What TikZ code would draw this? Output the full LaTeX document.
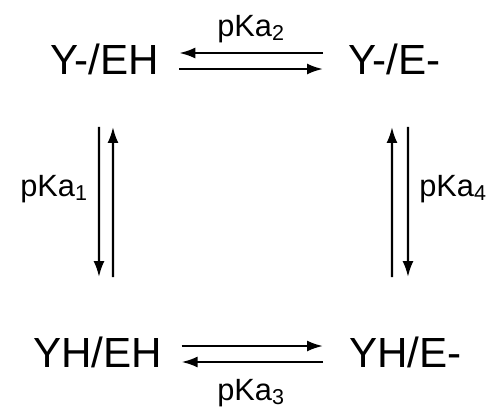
\documentclass[tikz,border=0pt]{standalone}
\usepackage{fontspec}
\setmainfont{Liberation Sans}
\usetikzlibrary{arrows.meta}
\tikzset{
  species/.style={anchor=base west,inner sep=0pt,font=\fontsize{24}{28}\selectfont},
  pklabel/.style={anchor=base west,inner sep=0pt,font=\fontsize{17.5}{20}\selectfont},
  eqarrow/.style={-{Latex[length=0.32cm,width=0.22cm]},line width=1.3pt}
}
\begin{document}
\begin{tikzpicture}[x=0.02cm,y=-0.02cm]
  \useasboundingbox (0,0) rectangle (495,410);

%% species
  \node[species] (yeh)  at (50,74)   {Y-/EH};
  \node[species] (yee)  at (348,74)  {Y-/E-};
  \node[species] (yheh) at (33,367)  {YH/EH};
  \node[species] (yhe)  at (349,367) {YH/E-};

%% pKa labels
  \node[pklabel] (pk2) at (217,36)  {pKa\textsubscript{2}};
  \node[pklabel] (pk1) at (20,196)  {pKa\textsubscript{1}};
  \node[pklabel] (pk4) at (419,196) {pKa\textsubscript{4}};
  \node[pklabel] (pk3) at (217,400) {pKa\textsubscript{3}};

%% flat arrows
  \draw[eqarrow] ([xshift=-0.5cm,yshift=0.42cm]yee.base west) -- ([xshift=0.4cm,yshift=0.42cm]yeh.base east);
  \draw[eqarrow] ([xshift=0.4cm,yshift=0.1cm]yeh.base east) -- ([xshift=-0.5cm,yshift=0.1cm]yee.base west);
  \draw[eqarrow] ([xshift=0.38cm,yshift=0.42cm]yheh.base east) -- ([xshift=-0.52cm,yshift=0.42cm]yhe.base west);
  \draw[eqarrow] ([xshift=-0.52cm,yshift=0.1cm]yhe.base west) -- ([xshift=0.38cm,yshift=0.1cm]yheh.base east);

%% vert arrows
  \draw[eqarrow] ([xshift=0.98cm,yshift=-1.06cm]yeh.base west) -- ([xshift=1.32cm,yshift=1.8cm]yheh.base west);
  \draw[eqarrow] ([xshift=1.6cm,yshift=1.8cm]yheh.base west) -- ([xshift=1.26cm,yshift=-1.06cm]yeh.base west);
  \draw[eqarrow] ([xshift=0.86cm,yshift=1.8cm]yhe.base west) -- ([xshift=0.88cm,yshift=-1.06cm]yee.base west);
  \draw[eqarrow] ([xshift=1.2cm,yshift=-1.06cm]yee.base west) -- ([xshift=1.18cm,yshift=1.8cm]yhe.base west);
\end{tikzpicture}
\end{document}
